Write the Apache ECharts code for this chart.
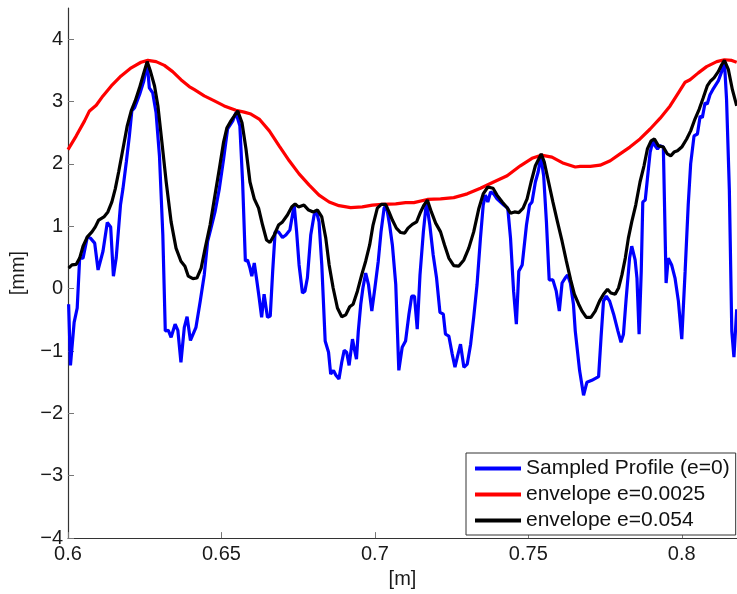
<!DOCTYPE html>
<html>
<head>
<meta charset="utf-8">
<script src="https://cdn.jsdelivr.net/npm/echarts@6/dist/echarts.min.js"></script>
<style>html,body{margin:0;padding:0;background:#fff}#c{width:737px;height:594px}</style>
</head>
<body>
<div id="c"></div>
<script>
const seriesNames = ['Sampled Profile (e=0)', 'envelope e=0.0025', 'envelope e=0.054'];
const xTicks = [0.6, 0.65, 0.7, 0.75, 0.8];
const yTicks = [-4, -3, -2, -1, 0, 1, 2, 3, 4];

const blueX = [0.6002,0.6008,0.6020,0.6030,0.6038,0.6049,0.6063,0.6073,0.6087,0.6098,0.6114,0.6128,0.6139,0.6148,0.6157,0.6171,0.6179,0.6190,0.6200,0.6208,0.6217,0.6233,0.6247,0.6258,0.6265,0.6276,0.6287,0.6298,0.6309,0.6317,0.6327,0.6336,0.6349,0.6358,0.6368,0.6379,0.6388,0.6399,0.6417,0.6431,0.6444,0.6455,0.6466,0.6479,0.6493,0.6507,0.6520,0.6537,0.6547,0.6553,0.6560,0.6569,0.6578,0.6585,0.6593,0.6599,0.6607,0.6615,0.6623,0.6631,0.6639,0.6650,0.6659,0.6667,0.6675,0.6686,0.6699,0.6710,0.6723,0.6737,0.6745,0.6753,0.6764,0.6772,0.6780,0.6791,0.6802,0.6810,0.6818,0.6827,0.6838,0.6849,0.6856,0.6865,0.6873,0.6883,0.6892,0.6900,0.6908,0.6916,0.6927,0.6934,0.6940,0.6946,0.6954,0.6961,0.6970,0.6979,0.6990,0.7000,0.7011,0.7020,0.7030,0.7037,0.7048,0.7057,0.7068,0.7078,0.7089,0.7100,0.7111,0.7120,0.7129,0.7138,0.7147,0.7158,0.7168,0.7179,0.7190,0.7201,0.7212,0.7223,0.7230,0.7241,0.7252,0.7261,0.7270,0.7279,0.7290,0.7301,0.7312,0.7322,0.7333,0.7344,0.7353,0.7360,0.7368,0.7377,0.7387,0.7398,0.7420,0.7433,0.7442,0.7452,0.7461,0.7469,0.7480,0.7494,0.7504,0.7512,0.7523,0.7532,0.7541,0.7550,0.7559,0.7568,0.7580,0.7591,0.7601,0.7610,0.7620,0.7628,0.7637,0.7647,0.7653,0.7667,0.7680,0.7691,0.7707,0.7729,0.7737,0.7745,0.7754,0.7765,0.7778,0.7792,0.7802,0.7810,0.7819,0.7830,0.7837,0.7848,0.7854,0.7861,0.7868,0.7873,0.7881,0.7888,0.7897,0.7906,0.7913,0.7921,0.7929,0.7940,0.7949,0.7956,0.7967,0.7978,0.7989,0.8000,0.8011,0.8021,0.8029,0.8040,0.8051,0.8060,0.8067,0.8076,0.8083,0.8092,0.8101,0.8106,0.8119,0.8130,0.8139,0.8146,0.8155,0.8163,0.8170,0.8179];
const blueY = [-0.25,-1.23,-0.54,-0.31,0.49,0.49,0.83,0.81,0.73,0.30,0.60,1.06,0.99,0.20,0.49,1.34,1.60,2.03,2.45,2.85,2.90,3.11,3.33,3.62,3.22,3.14,2.82,2.13,0.86,-0.68,-0.67,-0.78,-0.57,-0.67,-1.18,-0.62,-0.45,-0.83,-0.62,-0.20,0.22,0.76,0.97,1.23,1.60,2.08,2.56,2.69,2.82,2.85,2.61,1.71,0.44,0.46,0.33,0.20,0.41,0.14,-0.15,-0.46,-0.09,-0.46,-0.44,0.28,0.91,0.91,0.82,0.86,0.94,1.34,0.91,0.38,-0.07,-0.04,0.17,0.86,1.18,1.23,1.07,0.38,-0.84,-1.02,-1.37,-1.31,-1.39,-1.45,-1.18,-0.99,-1.02,-1.23,-0.81,-0.99,-1.13,-0.68,-0.25,0.01,0.25,0.07,-0.36,0.01,0.44,0.91,1.29,1.34,1.02,0.70,0.07,-1.31,-0.94,-0.84,-0.41,-0.12,-0.12,-0.65,0.22,0.91,1.39,1.02,0.54,0.17,-0.38,-0.41,-0.73,-0.76,-1.05,-1.26,-1.07,-0.89,-1.26,-1.21,-0.89,-0.46,0.07,0.81,1.34,1.50,1.39,1.55,1.52,1.44,1.34,1.29,0.81,-0.04,-0.57,0.28,0.38,1.02,1.34,1.39,1.71,1.87,2.11,1.81,1.07,0.14,0.14,-0.04,-0.36,0.09,0.17,0.22,0.09,-0.25,-0.68,-1.31,-1.71,-1.50,-1.47,-1.41,-0.78,-0.20,-0.12,-0.20,-0.41,-0.68,-0.86,-0.73,-0.15,0.49,0.68,0.46,0.17,-0.73,0.28,1.39,1.42,1.76,2.19,2.37,2.29,2.24,2.29,2.27,0.09,0.49,0.38,0.17,-0.20,-0.81,0.28,1.34,2.00,2.45,2.48,2.77,2.74,2.98,2.96,3.11,3.19,3.22,3.33,3.48,3.64,3.03,1.60,-0.68,-1.10,-0.33];

const redX = [0.6000,0.6027,0.6054,0.6070,0.6092,0.6114,0.6141,0.6173,0.6206,0.6238,0.6260,0.6287,0.6314,0.6341,0.6368,0.6395,0.6412,0.6444,0.6477,0.6509,0.6547,0.6574,0.6596,0.6623,0.6656,0.6688,0.6721,0.6753,0.6786,0.6818,0.6851,0.6883,0.6921,0.6959,0.6992,0.7024,0.7068,0.7100,0.7127,0.7171,0.7214,0.7257,0.7301,0.7344,0.7387,0.7431,0.7474,0.7512,0.7542,0.7577,0.7615,0.7653,0.7669,0.7702,0.7734,0.7767,0.7799,0.7831,0.7864,0.7897,0.7929,0.7962,0.7989,0.8011,0.8027,0.8054,0.8081,0.8114,0.8139,0.8163,0.8179];
const redY = [2.23,2.45,2.69,2.85,2.94,3.09,3.25,3.41,3.54,3.63,3.66,3.64,3.58,3.48,3.35,3.24,3.19,3.09,3.01,2.93,2.86,2.83,2.80,2.72,2.53,2.29,2.05,1.84,1.66,1.50,1.39,1.33,1.30,1.31,1.34,1.35,1.36,1.38,1.38,1.43,1.44,1.46,1.52,1.61,1.71,1.81,1.97,2.09,2.14,2.11,2.01,1.95,1.96,1.96,1.98,2.05,2.16,2.27,2.40,2.56,2.73,2.93,3.14,3.31,3.35,3.46,3.56,3.64,3.67,3.66,3.63];

const blackX = [0.6002,0.6013,0.6027,0.6038,0.6049,0.6063,0.6078,0.6089,0.6100,0.6117,0.6130,0.6143,0.6154,0.6165,0.6179,0.6193,0.6206,0.6219,0.6233,0.6247,0.6258,0.6269,0.6282,0.6293,0.6306,0.6320,0.6336,0.6352,0.6368,0.6381,0.6392,0.6407,0.6420,0.6434,0.6447,0.6463,0.6477,0.6493,0.6507,0.6518,0.6531,0.6553,0.6567,0.6580,0.6593,0.6607,0.6621,0.6634,0.6647,0.6658,0.6672,0.6686,0.6699,0.6715,0.6729,0.6740,0.6751,0.6769,0.6784,0.6799,0.6813,0.6827,0.6840,0.6851,0.6864,0.6878,0.6892,0.6905,0.6918,0.6929,0.6943,0.6957,0.6970,0.6983,0.6994,0.7008,0.7021,0.7035,0.7046,0.7057,0.7070,0.7084,0.7097,0.7108,0.7122,0.7136,0.7149,0.7160,0.7171,0.7184,0.7198,0.7214,0.7227,0.7241,0.7257,0.7273,0.7290,0.7306,0.7322,0.7339,0.7353,0.7368,0.7385,0.7398,0.7415,0.7429,0.7442,0.7455,0.7469,0.7483,0.7496,0.7509,0.7523,0.7534,0.7542,0.7552,0.7566,0.7580,0.7595,0.7610,0.7624,0.7638,0.7650,0.7664,0.7675,0.7689,0.7704,0.7718,0.7732,0.7745,0.7758,0.7769,0.7783,0.7794,0.7805,0.7816,0.7826,0.7837,0.7850,0.7864,0.7877,0.7888,0.7900,0.7911,0.7924,0.7940,0.7953,0.7964,0.7975,0.7986,0.8000,0.8016,0.8029,0.8043,0.8057,0.8070,0.8083,0.8094,0.8105,0.8119,0.8130,0.8139,0.8152,0.8165,0.8179];
const blackY = [0.33,0.38,0.39,0.49,0.68,0.83,0.91,0.99,1.10,1.15,1.23,1.39,1.60,1.87,2.24,2.61,2.85,3.01,3.22,3.46,3.64,3.48,3.25,2.93,2.35,1.71,1.07,0.65,0.44,0.36,0.20,0.16,0.17,0.33,0.65,1.02,1.44,1.92,2.35,2.58,2.69,2.85,2.66,2.24,1.71,1.44,1.29,1.02,0.78,0.74,0.86,1.02,1.07,1.18,1.31,1.36,1.31,1.34,1.26,1.23,1.26,1.15,0.81,0.38,0.01,-0.31,-0.45,-0.42,-0.29,-0.25,-0.04,0.22,0.44,0.70,1.02,1.29,1.35,1.35,1.23,1.10,0.97,0.90,0.89,0.97,1.03,1.07,1.23,1.34,1.42,1.23,1.05,0.91,0.70,0.49,0.37,0.36,0.46,0.65,0.91,1.29,1.52,1.63,1.61,1.50,1.39,1.31,1.21,1.23,1.22,1.29,1.44,1.71,1.97,2.08,2.16,2.03,1.71,1.39,1.07,0.76,0.44,0.14,-0.09,-0.25,-0.36,-0.46,-0.46,-0.36,-0.20,-0.09,-0.01,-0.07,-0.09,0.01,0.22,0.49,0.81,1.07,1.34,1.71,1.97,2.24,2.37,2.40,2.29,2.27,2.16,2.13,2.19,2.21,2.27,2.40,2.53,2.72,2.88,3.06,3.25,3.33,3.38,3.48,3.59,3.66,3.51,3.19,2.93];

const colors = ['#0000ff', '#ff0000', '#000000'];
const FONT = '"Liberation Sans", Arial, Helvetica, sans-serif';

function pairs(xs, ys) { return xs.map((x, i) => [x, ys[i]]); }
const allData = [pairs(blueX, blueY), pairs(redX, redY), pairs(blackX, blackY)];

const chart = echarts.init(document.getElementById('c'), null, { renderer: 'canvas' });
const fmtNum = v => String(v).replace('-', '\u2212');
chart.setOption({
  animation: false,
  backgroundColor: '#ffffff',
  grid: { left: 67, right: 0, top: 8, bottom: 52, containLabel: false },
  xAxis: {
    type: 'value', min: xTicks[0], max: 0.818, interval: 0.05,
    name: '[m]', nameLocation: 'middle', nameGap: 26,
    nameTextStyle: { fontFamily: FONT, fontSize: 20, color: '#1a1a1a' },
    axisLine: { show: true, onZero: false, lineStyle: { color: '#333', width: 1.2 } },
    axisTick: { show: true, inside: true, length: 6, lineStyle: { color: '#777' } },
    axisLabel: { showMaxLabel: false, margin: 6, fontFamily: FONT, fontSize: 20, color: '#1a1a1a',
      formatter: v => xTicks.some(t => Math.abs(t - v) < 1e-6) ? String(+v.toFixed(2)) : '' },
    splitLine: { show: false }
  },
  yAxis: {
    type: 'value', min: yTicks[0], max: 4.5, interval: 1,
    name: '[mm]', nameLocation: 'middle', nameGap: 40, nameRotate: 90,
    nameTextStyle: { fontFamily: FONT, fontSize: 20, color: '#1a1a1a' },
    axisLine: { show: true, onZero: false, lineStyle: { color: '#333', width: 1.2 } },
    axisTick: { show: true, inside: true, length: 6, lineStyle: { color: '#777' } },
    axisLabel: { showMaxLabel: false, margin: 5, fontFamily: FONT, fontSize: 20, color: '#1a1a1a',
      formatter: v => yTicks.includes(v) ? fmtNum(v) : '' },
    splitLine: { show: false }
  },
  legend: {
    orient: 'vertical', left: 466, top: 453,
    padding: [5, 6, 4, 9], itemGap: 5, itemWidth: 46, itemHeight: 4,
    backgroundColor: '#ffffff', borderColor: '#333', borderWidth: 1, borderRadius: 0,
    textStyle: { fontFamily: FONT, fontSize: 21, color: '#111', lineHeight: 21 },
    data: seriesNames.map((n, i) => ({ name: n, icon: 'rect', itemStyle: { color: colors[i] } }))
  },
  series: seriesNames.map((n, i) => ({
    name: n, type: 'line', data: allData[i], showSymbol: false, symbol: 'none',
    clip: true, z: 2 + i,
    lineStyle: { color: colors[i], width: 3.2 }, itemStyle: { color: colors[i] }
  }))
});
</script>
</body>
</html>
